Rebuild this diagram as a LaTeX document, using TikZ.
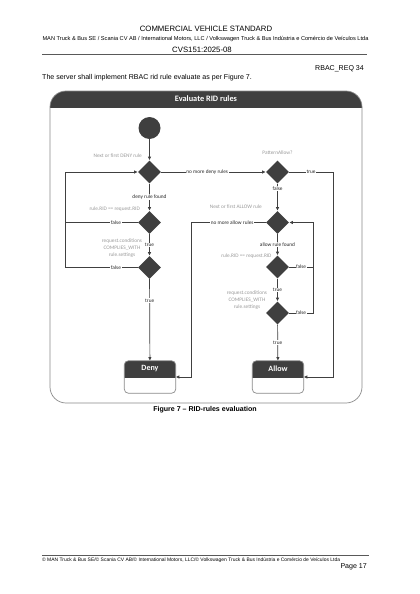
\documentclass[tikz,border=0pt]{standalone}
\usepackage{fontspec}
\setmainfont{Liberation Sans}
\newfontfamily\flowfont{Carlito}
\usetikzlibrary{arrows.meta,positioning,shapes.geometric}
\definecolor{bardark}{HTML}{3F3F3F}
\definecolor{framegray}{HTML}{8A8A8A}
\definecolor{notegray}{HTML}{9A9A9A}
\definecolor{linedark}{HTML}{404040}

\begin{document}
\begin{tikzpicture}[x=1pt,y=-1pt,
	decision/.style={diamond, fill=bardark, minimum width=23pt, minimum height=23pt, inner sep=0pt},
	startpoint/.style={circle, fill=bardark, minimum size=22pt, inner sep=0pt},
	statebox/.style={rectangle, minimum width=51pt, minimum height=32pt, inner sep=0pt},
	boxtitle/.style={text=white, font=\flowfont\bfseries\fontsize{8}{9}\selectfont, inner sep=0pt},
	flow/.style={draw=linedark, line width=0.7pt, -{Latex[length=3.6pt,width=3.4pt]}},
	link/.style={draw=linedark, line width=0.7pt},
	onlabel/.style={fill=white, text=black!85, font=\flowfont\fontsize{5.3}{6}\selectfont, inner sep=0.6pt},
	note/.style={text=notegray, font=\flowfont\fontsize{5.3}{6.7}\selectfont, inner sep=0pt, align=center},
	pagetext/.style={inner sep=0pt, font=\fontsize{7.05}{8}\selectfont}]

	\useasboundingbox[fill=white] (0,0) rectangle (420,594);

	\node[pagetext, anchor=base, font=\fontsize{7.76}{9}\selectfont] (stdtitle) at (206,31.8) {COMMERCIAL VEHICLE STANDARD};
	\node[pagetext, anchor=base, font=\fontsize{5.64}{6.5}\selectfont] (companies) at (205.5,41) {MAN Truck \& Bus SE / Scania CV AB / International Motors, LLC / Volkswagen Truck \& Bus Indústria e Comércio de Veículos Ltda};
	\node[pagetext, anchor=base, font=\fontsize{7.76}{9}\selectfont] (docid) at (202,52.8) {CVS151:2025-08};
	\draw[black!65, line width=0.8pt] (42,54.2) -- (367,54.2);
	\node[pagetext, anchor=base east] (reqid) at (364,70.5) {RBAC\_REQ 34};
	\node[pagetext, anchor=base west] (intro) at (42,79.5) {The server shall implement RBAC rid rule evaluate as per Figure 7.};

	\begin{scope}
		\clip (50,91) rectangle (362,107);
		\fill[bardark, rounded corners=16pt] (50,91) rectangle (362,403);
	\end{scope}
	\draw[framegray, line width=0.7pt, rounded corners=16pt] (50,91) rectangle (362,403);
	\node[boxtitle, font=\flowfont\bfseries\fontsize{8.3}{9}\selectfont] (figtitle) at (206,99) {Evaluate RID rules};

	\node[startpoint] (start) at (149.5,128) {};
	\node[decision] (denynext) at (149.5,172) {};
	\node[decision] (denyrid) at (149.5,222.5) {};
	\node[decision] (denycond) at (149.5,267.5) {};
	\node[decision] (pattern) at (277.5,172) {};
	\node[decision] (allownext) at (277.5,222.5) {};
	\node[decision] (allowrid) at (277.5,267) {};
	\node[decision] (allowcond) at (277.5,313) {};
	\node[statebox] (deny) at (150,377) {};
	\node[statebox] (allow) at (278,377) {};
	\coordinate (denyloop) at (65,267.5);
	\coordinate (denyin) at (191,377);
	\coordinate (allowloop) at (313,313);
	\coordinate (allowin) at (333,377);

	\foreach \boxname in {deny,allow} {
		\begin{scope}
			\clip (\boxname.north west) rectangle (\boxname.east);
			\fill[bardark, rounded corners=4pt] (\boxname.south west) rectangle (\boxname.north east);
		\end{scope}
		\draw[framegray, line width=0.7pt, rounded corners=4pt] (\boxname.south west) rectangle (\boxname.north east);
	}
	\node[boxtitle] (denytitle) at (150,369) {Deny};
	\node[boxtitle] (allowtitle) at (278,369) {Allow};

	\node[note, anchor=east] (denynextnote) at (142,156) {Next or first DENY rule};
	\node[note, anchor=east] (denyridnote) at (140,209) {rule.RID == request.RID};
	\node[note] (denycondnote) at (122,248) {request.conditions\\COMPLIES\_WITH\\rule.settings};
	\node[note] (patternnote) at (277.5,152.7) {PatternAllow?};
	\node[note, anchor=east] (allownextnote) at (262,206.7) {Next or first ALLOW rule};
	\node[note, anchor=east] (allowridnote) at (271.7,255.7) {rule.RID == request.RID};
	\node[note] (allowcondnote) at (247,300) {request.conditions\\COMPLIES\_WITH\\rule.settings};

	\draw[flow] (start) -- (denynext);
	\draw[flow] (denynext) -- node[onlabel, pos=0.44] (nodenylabel) {no more deny rules} (pattern);
	\draw[flow] (denynext) -- node[onlabel] (denyfoundlabel) {deny rule found} (denyrid);
	\draw[flow] (denyrid) -- node[onlabel] (denyridtrue) {true} (denycond);
	\draw[link] (denyrid) -- node[onlabel, pos=0.3] (denyridfalse) {false} (denyrid -| denyloop);
	\draw[flow] (denycond) -- node[onlabel, pos=0.3] (denycondfalse) {false} (denyloop) |- (denynext);
	\draw[flow] (denycond) -- node[onlabel, pos=0.26] (denycondtrue) {true} (deny);

	\draw[flow] (pattern) -- node[onlabel, pos=0.19] (patternfalse) {false} (allownext);
	\draw[flow] (pattern) -- node[onlabel] (patterntrue) {true} (pattern -| allowin) |- (allow);
	\draw[flow] (allownext) -- node[onlabel, pos=0.45] (noallowlabel) {no more allow rules} (allownext -| denyin) |- (deny);
	\draw[flow] (allownext) -- node[onlabel] (allowfoundlabel) {allow rule found} (allowrid);
	\draw[flow] (allowrid) -- node[onlabel] (allowridtrue) {true} (allowcond);
	\draw[link] (allowrid) -- node[onlabel] (allowridfalse) {false} (allowrid -| allowloop);
	\draw[flow] (allowcond) -- node[onlabel] (allowcondfalse) {false} (allowloop) |- (allownext);
	\draw[flow] (allowcond) -- node[onlabel] (allowcondtrue) {true} (allow);

	\node[pagetext, anchor=base, font=\bfseries\fontsize{7.05}{8}\selectfont] (caption) at (205,411.5) {Figure 7 – RID-rules evaluation};

	\draw[black!65, line width=0.6pt] (42,555) -- (369,555);
	\node[pagetext, anchor=base west, font=\fontsize{4.95}{6}\selectfont] (copyright) at (42,561) {© MAN Truck \& Bus SE/© Scania CV AB/© International Motors, LLC/© Volkswagen Truck \& Bus Indústria e Comércio de Veículos Ltda};
	\node[pagetext, anchor=base east] (pagenum) at (367,568.2) {Page 17};
\end{tikzpicture}
\end{document}
